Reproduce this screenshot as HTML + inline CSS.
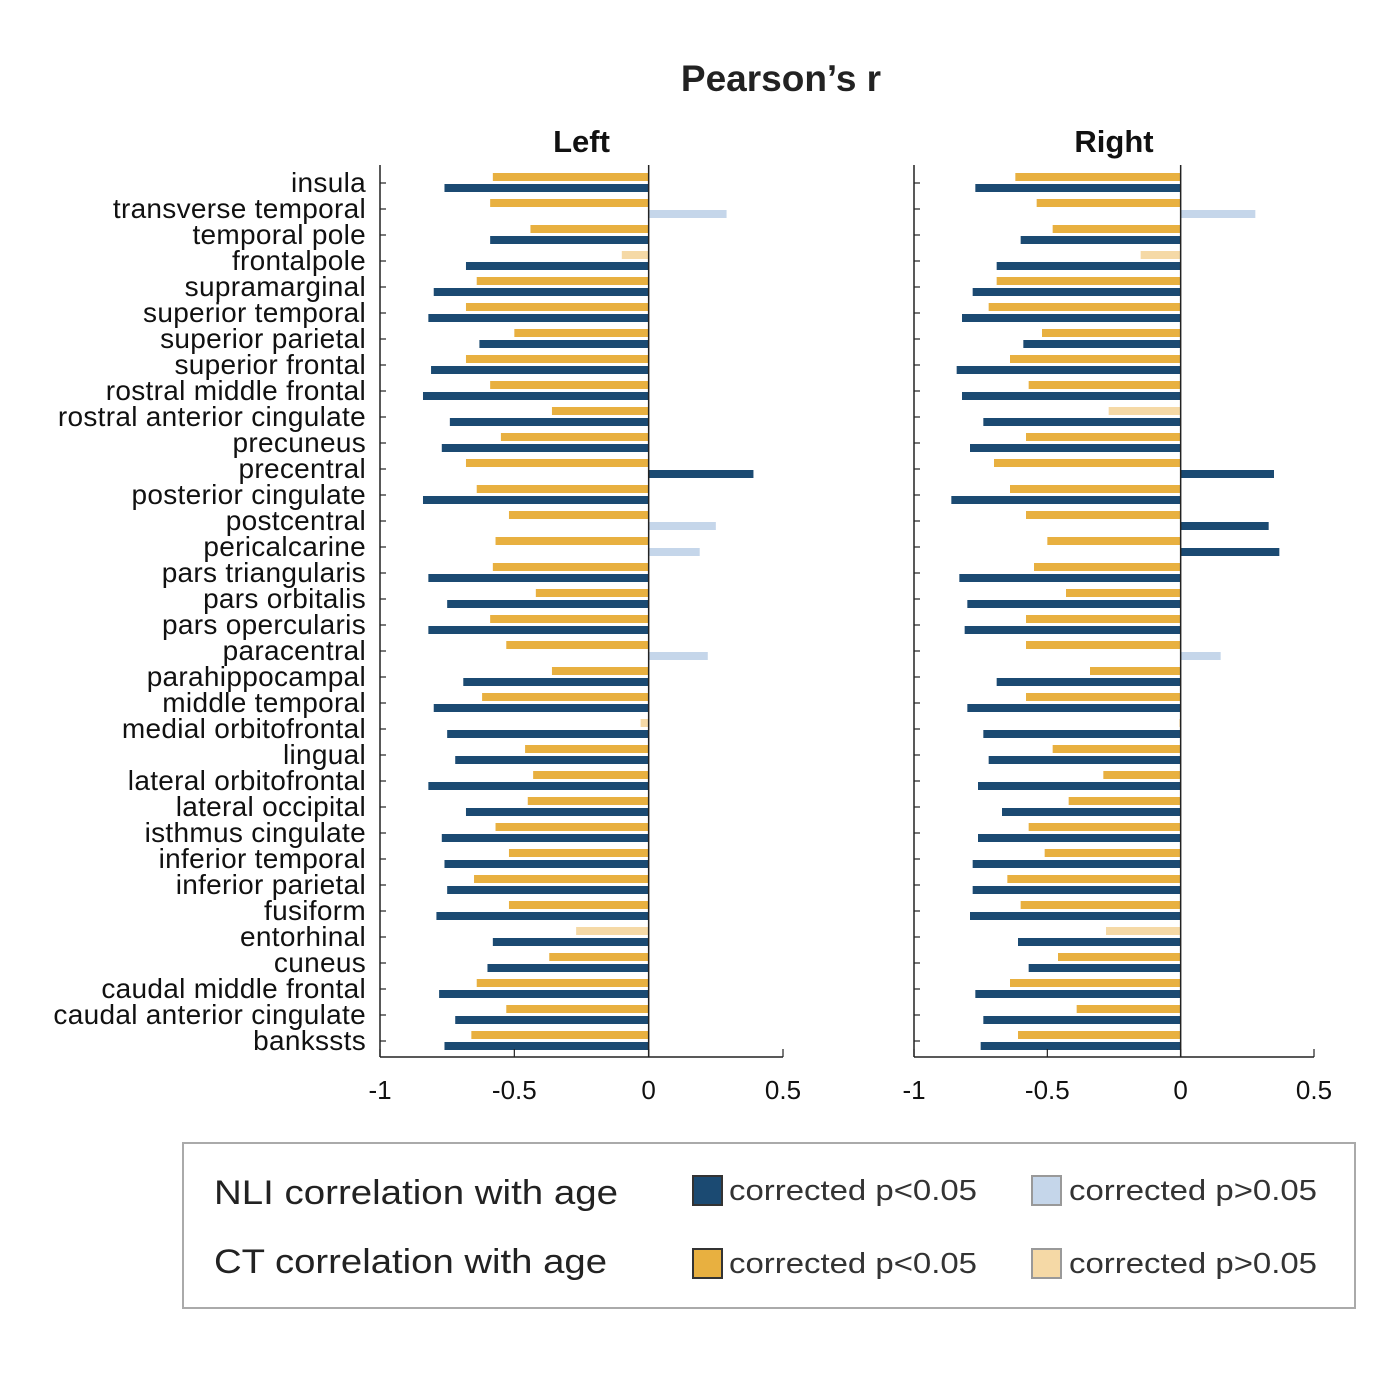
<!DOCTYPE html>
<html><head><meta charset="utf-8"><style>
body{margin:0;background:#fff;}
svg text{font-family:"Liberation Sans",Arial,sans-serif;}
</style></head><body>
<svg id="chart" width="1388" height="1374" xmlns="http://www.w3.org/2000/svg">
<text x="781" y="91" text-anchor="middle" font-size="37" font-weight="bold" fill="#222">Pearson’s r</text>
<g id="plots"></g>
<g>
<rect x="183" y="1143" width="1172" height="165" fill="#fff" stroke="#aaa" stroke-width="2"/>
<text x="214" y="1204" font-size="34" fill="#222" textLength="404" lengthAdjust="spacingAndGlyphs">NLI correlation with age</text>
<text x="214" y="1273" font-size="34" fill="#222" textLength="393" lengthAdjust="spacingAndGlyphs">CT correlation with age</text>
<rect x="693" y="1176" width="29" height="29" fill="#1b4a72" stroke="#333" stroke-width="2"/>
<text x="729" y="1200" font-size="29" fill="#333" textLength="248" lengthAdjust="spacingAndGlyphs">corrected p&lt;0.05</text>
<rect x="1032" y="1176" width="29" height="29" fill="#c5d6ea" stroke="#999" stroke-width="2"/>
<text x="1069" y="1200" font-size="29" fill="#333" textLength="248" lengthAdjust="spacingAndGlyphs">corrected p&gt;0.05</text>
<rect x="693" y="1249" width="29" height="29" fill="#e8b040" stroke="#333" stroke-width="2"/>
<text x="729" y="1273" font-size="29" fill="#333" textLength="248" lengthAdjust="spacingAndGlyphs">corrected p&lt;0.05</text>
<rect x="1032" y="1249" width="29" height="29" fill="#f5d9a6" stroke="#999" stroke-width="2"/>
<text x="1069" y="1273" font-size="29" fill="#333" textLength="248" lengthAdjust="spacingAndGlyphs">corrected p&gt;0.05</text>
</g>
</svg>
<script>
const regions=["insula","transverse temporal","temporal pole","frontalpole","supramarginal","superior temporal","superior parietal","superior frontal","rostral middle frontal","rostral anterior cingulate","precuneus","precentral","posterior cingulate","postcentral","pericalcarine","pars triangularis","pars orbitalis","pars opercularis","paracentral","parahippocampal","middle temporal","medial orbitofrontal","lingual","lateral orbitofrontal","lateral occipital","isthmus cingulate","inferior temporal","inferior parietal","fusiform","entorhinal","cuneus","caudal middle frontal","caudal anterior cingulate","bankssts"];
const leftCT=[-0.58,-0.59,-0.44,-0.10,-0.64,-0.68,-0.50,-0.68,-0.59,-0.36,-0.55,-0.68,-0.64,-0.52,-0.57,-0.58,-0.42,-0.59,-0.53,-0.36,-0.62,-0.03,-0.46,-0.43,-0.45,-0.57,-0.52,-0.65,-0.52,-0.27,-0.37,-0.64,-0.53,-0.66];
const leftNLI=[-0.76,0.29,-0.59,-0.68,-0.80,-0.82,-0.63,-0.81,-0.84,-0.74,-0.77,0.39,-0.84,0.25,0.19,-0.82,-0.75,-0.82,0.22,-0.69,-0.80,-0.75,-0.72,-0.82,-0.68,-0.77,-0.76,-0.75,-0.79,-0.58,-0.60,-0.78,-0.72,-0.76];
const leftCTsig=[1,1,1,0,1,1,1,1,1,1,1,1,1,1,1,1,1,1,1,1,1,0,1,1,1,1,1,1,1,0,1,1,1,1];
const leftNLIsig=[1,0,1,1,1,1,1,1,1,1,1,1,1,0,0,1,1,1,0,1,1,1,1,1,1,1,1,1,1,1,1,1,1,1];
const rightCT=[-0.62,-0.54,-0.48,-0.15,-0.69,-0.72,-0.52,-0.64,-0.57,-0.27,-0.58,-0.70,-0.64,-0.58,-0.50,-0.55,-0.43,-0.58,-0.58,-0.34,-0.58,-0.005,-0.48,-0.29,-0.42,-0.57,-0.51,-0.65,-0.60,-0.28,-0.46,-0.64,-0.39,-0.61];
const rightNLI=[-0.77,0.28,-0.60,-0.69,-0.78,-0.82,-0.59,-0.84,-0.82,-0.74,-0.79,0.35,-0.86,0.33,0.37,-0.83,-0.80,-0.81,0.15,-0.69,-0.80,-0.74,-0.72,-0.76,-0.67,-0.76,-0.78,-0.78,-0.79,-0.61,-0.57,-0.77,-0.74,-0.75];
const rightCTsig=[1,1,1,0,1,1,1,1,1,0,1,1,1,1,1,1,1,1,1,1,1,0,1,1,1,1,1,1,1,0,1,1,1,1];
const rightNLIsig=[1,0,1,1,1,1,1,1,1,1,1,1,1,1,1,1,1,1,0,1,1,1,1,1,1,1,1,1,1,1,1,1,1,1];
const ticks=[-1,-0.5,0,0.5];
const tickLabels=["-1","-0.5","0","0.5"];

const NS="http://www.w3.org/2000/svg";
const root=document.getElementById('plots');
function mk(tag,attrs,parent){const e=document.createElementNS(NS,tag);for(const k in attrs)e.setAttribute(k,attrs[k]);(parent||root).appendChild(e);return e;}
const yRow=i=>183+i*26;
function panel(x0,x1,title,ct,nli,ctSig,nliSig,showLabels,key){
  const xs=v=>x0+(v+1)/1.5*(x1-x0);
  const g=mk('g',{});
  
  
  const t=mk('text',{x:(x0+x1)/2,y:152,'text-anchor':'middle','font-size':31,'font-weight':'bold',fill:'#111'},g);
  t.textContent=title;
  
  
  regions.forEach((r,i)=>{
    const y=yRow(i);
    const z=xs(0);
    const c=ct[i],n=nli[i];
    const b1=mk('rect',{x:Math.min(xs(c),z),y:y-10,width:Math.abs(xs(c)-z),height:8,fill:ctSig[i]?'#e8b040':'#f5d9a6'},g);
    
    
    const b2=mk('rect',{x:Math.min(xs(n),z),y:y+1,width:Math.abs(xs(n)-z),height:8,fill:nliSig[i]?'#1b4a72':'#c5d6ea'},g);
    
    
    mk('line',{x1:x0,x2:x0+6,y1:y,y2:y,stroke:'#222','stroke-width':1.2},g);
    if(showLabels){
      const l=mk('text',{x:x0-14,y:y+9,'text-anchor':'end','font-size':28,'letter-spacing':0.3,fill:'#111'},g);
      l.textContent=r;
      
      
    }
  });
  mk('line',{x1:xs(0),x2:xs(0),y1:165,y2:1057,stroke:'#222','stroke-width':1.5},g);
  mk('line',{x1:x0,x2:x0,y1:165,y2:1057,stroke:'#222','stroke-width':1.5},g);
  mk('line',{x1:x0,x2:x1,y1:1057,y2:1057,stroke:'#222','stroke-width':1.5},g);
  ticks.forEach((tv,j)=>{
    mk('line',{x1:xs(tv),x2:xs(tv),y1:1057,y2:1049,stroke:'#222','stroke-width':1.2},g);
    const tl=mk('text',{x:xs(tv),y:1099,'text-anchor':'middle','font-size':26,fill:'#111'},g);
    tl.textContent=tickLabels[j];
    
    
  });
}
panel(380,783,'Left',leftCT,leftNLI,leftCTsig,leftNLIsig,true,'left');
panel(914,1314,'Right',rightCT,rightNLI,rightCTsig,rightNLIsig,false,'right');
</script>
</body></html>
